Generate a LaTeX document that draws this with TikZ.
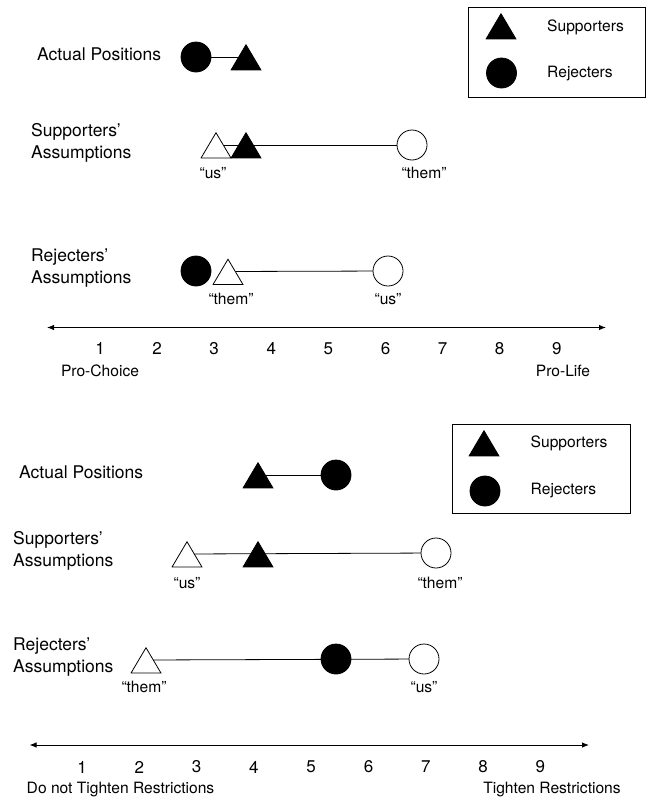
\documentclass[tikz,border=0pt]{standalone}
\usepackage{fontspec}
\setmainfont{TeX Gyre Heros}
\usetikzlibrary{arrows.meta,backgrounds}

\begin{document}
\begin{tikzpicture}[x=1pt,y=-1pt,>={Latex[length=7pt,width=5.5pt]},
        rowlbl/.style={anchor=west,inner sep=0pt,align=left,font=\fontsize{17.5}{22}\selectfont},
        numlbl/.style={inner sep=0pt,font=\fontsize{17}{20}\selectfont},
        smalllbl/.style={inner sep=0pt,font=\fontsize{15.6}{18}\selectfont},
        rej/.style={circle,draw,line width=0.8pt,minimum size=30pt,inner sep=0pt,fill=#1},
        rej/.default=black,
        sup/.style={rectangle,minimum width=31pt,minimum height=27pt,inner sep=0pt,
            path picture={\draw[line width=0.8pt,fill=#1]
                ([shift={(0.6pt,0.6pt)}]path picture bounding box.south west) --
                ([shift={(-0.6pt,0.6pt)}]path picture bounding box.south east) --
                ([yshift=-1.2pt]path picture bounding box.north) -- cycle;}},
        sup/.default=black,
        link/.style={line width=0.8pt}]
        \useasboundingbox (0,0) rectangle (646,798);

        % legend of the first scale
        \draw[line width=0.8pt] (468,7) rectangle (645,97);
        \node[sup] (legsupA) at (501,26) {};
        \node[rej] (legrejA) at (501.5,73) {};
        \node[smalllbl,anchor=west] (legsuptxtA) at (547,27) {Supporters};
        \node[smalllbl,anchor=west] (legrejtxtA) at (547,74) {Rejecters};

        % first scale: rows
        \node[rowlbl] (actA) at (37,54) {Actual Positions};
        \node[rowlbl] (suppA) at (31,143) {Supporters'\\Assumptions};
        \node[rowlbl] (rejsA) at (31,268) {Rejecters'\\Assumptions};

        \node[rej] (actrejA) at (196,57) {};
        \node[sup] (actsupA) at (246,57) {};

        \node[sup=white] (supusA) at (216,145) {};
        \node[sup] (supselfA) at (246,145) {};
        \node[rej=white] (supthemA) at (412,145) {};
        \node[smalllbl] (supuslblA) at (213,173) {``us''};
        \node[smalllbl] (supthemlblA) at (424,173) {``them''};

        \node[rej] (rejselfA) at (196,271) {};
        \node[sup=white] (rejthemA) at (228,271.5) {};
        \node[rej=white] (rejusA) at (388,271) {};
        \node[smalllbl] (rejthemlblA) at (231,299) {``them''};
        \node[smalllbl] (rejuslblA) at (388,299) {``us''};

        \begin{scope}[on background layer]
                \draw[link] (actrejA.center) -- (actsupA.center);
                \draw[link] (supusA.center) -- (supthemA.center);
                \draw[link] (rejthemA.center) -- (rejusA.center);
        \end{scope}

        % first scale: axis
        \coordinate (axisLA) at (47,327.5);
        \coordinate (axisRA) at (606,327.5);
        \draw[<->,line width=0.9pt] (axisLA) -- (axisRA);
        \foreach \n in {1,...,9}
                \node[numlbl] (numA\n) at ({100+57.1*(\n-1)},348.5) {\n};
        \node[smalllbl] (leftA) at (100,371) {Pro-Choice};
        \node[smalllbl] (rightA) at (563,371) {Pro-Life};

        % legend of the second scale
        \draw[line width=0.8pt] (452,424) rectangle (630,513);
        \node[sup] (legsupB) at (484,443) {};
        \node[rej] (legrejB) at (485,491) {};
        \node[smalllbl,anchor=west] (legsuptxtB) at (530.5,443) {Supporters};
        \node[smalllbl,anchor=west] (legrejtxtB) at (530.5,491) {Rejecters};

        % second scale: rows
        \node[rowlbl] (actB) at (19,472) {Actual Positions};
        \node[rowlbl] (suppB) at (13,551) {Supporters'\\Assumptions};
        \node[rowlbl] (rejsB) at (13,657.5) {Rejecters'\\Assumptions};

        \node[sup] (actsupB) at (258,475) {};
        \node[rej] (actrejB) at (336,475) {};

        \node[sup=white] (supusB) at (187,554) {};
        \node[sup] (supselfB) at (258,554) {};
        \node[rej=white] (supthemB) at (436,553) {};
        \node[smalllbl] (supuslblB) at (187,583) {``us''};
        \node[smalllbl] (supthemlblB) at (440,583) {``them''};

        \node[sup=white] (rejthemB) at (146,660) {};
        \node[rej] (rejselfB) at (336,659) {};
        \node[rej=white] (rejusB) at (424,659) {};
        \node[smalllbl] (rejthemlblB) at (144,687) {``them''};
        \node[smalllbl] (rejuslblB) at (424,687) {``us''};

        \begin{scope}[on background layer]
                \draw[link] (actsupB.center) -- (actrejB.center);
                \draw[link] (supusB.center) -- (supthemB.center);
                \draw[link] (rejthemB.center) -- (rejusB.center);
        \end{scope}

        % second scale: axis
        \coordinate (axisLB) at (29.5,745);
        \coordinate (axisRB) at (589,745);
        \draw[<->,line width=0.9pt] (axisLB) -- (axisRB);
        \foreach \n in {1,...,9}
                \node[numlbl] (numB\n) at ({82+57.3*(\n-1)},767) {\n};
        \node[smalllbl] (leftB) at (120.5,790) {Do not Tighten Restrictions};
        \node[smalllbl] (rightB) at (552,790) {Tighten Restrictions};
\end{tikzpicture}
\end{document}
